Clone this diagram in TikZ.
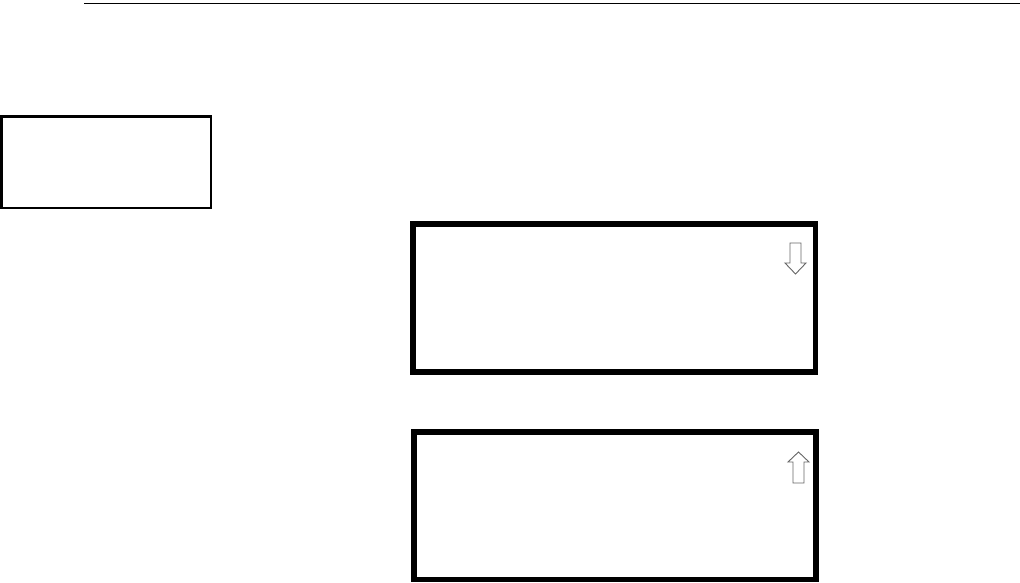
\documentclass[tikz,border=0pt]{standalone}
\begin{document}
\begin{tikzpicture}[x=1pt,y=-1pt,
  screen/.style={draw=black,line width=5.5pt,inner sep=0pt,outer sep=0pt},
  tab/.style={draw=black,line width=2.6pt,inner sep=0pt,outer sep=0pt},
  scrollarrow/.style={draw=black!60,line width=0.9pt,fill=white,line join=miter}]
\useasboundingbox (0,0) rectangle (1020,583);
\fill[white] (0,0) rectangle (1020,583);
\coordinate (rl) at (84,3.5);
\coordinate (rr) at (1020,3.5);
\draw[line width=1.2pt] (rl) -- (rr);
\node[tab,minimum width=209.5pt,minimum height=91.5pt,anchor=north west] (tabbox) at (1.3,116.3) {};
\node[screen,minimum width=402.5pt,minimum height=148pt,anchor=north west] (scr1) at (413,224) {};
\node[screen,minimum width=402pt,minimum height=147.5pt,anchor=north west] (scr2) at (414,432) {};
% down arrow
\draw[scrollarrow] (790,243) -- (801,243) -- (801,263) -- (806,263) -- (795.5,274) -- (785,263) -- (790,263) -- cycle;
% up arrow
\draw[scrollarrow] (793,483) -- (804,483) -- (804,462) -- (809,462) -- (798.5,452) -- (788,462) -- (793,462) -- cycle;
\end{tikzpicture}
\end{document}
